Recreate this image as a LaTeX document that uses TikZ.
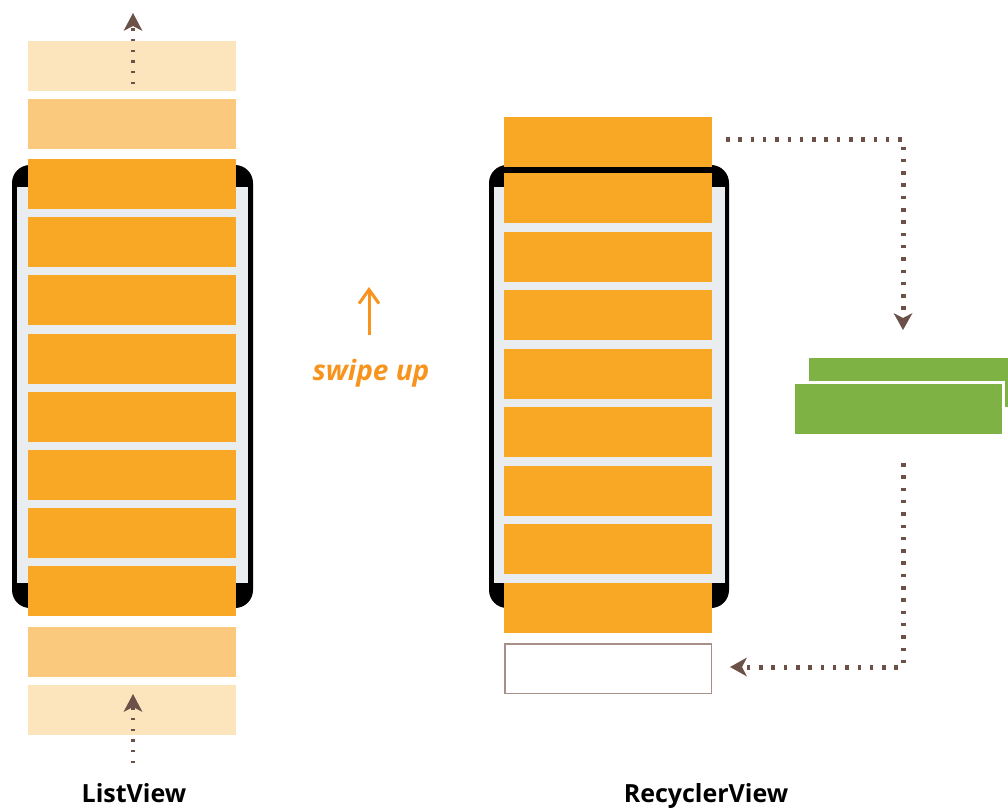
\documentclass[tikz,border=0pt]{standalone}
\usepackage{fontspec}
\setmainfont{Open Sans}
\usetikzlibrary{arrows.meta}
\definecolor{itemor}{HTML}{F8A825}
\definecolor{fadeA}{HTML}{FBC97D}
\definecolor{fadeB}{HTML}{FCE5BD}
\definecolor{phgray}{HTML}{E9EDF0}
\definecolor{arrbrown}{HTML}{6B5148}
\definecolor{boxbrown}{HTML}{A89088}
\definecolor{grn}{HTML}{7FB244}
\definecolor{swipeor}{HTML}{F7941D}
\tikzset{
  item/.style={rectangle, inner sep=0pt, minimum width=208pt, minimum height=50pt, fill=itemor},
  itemA/.style={item, fill=fadeA},
  itemB/.style={item, fill=fadeB},
  emptybox/.style={rectangle, inner sep=0pt, minimum width=206.5pt, minimum height=49.5pt, draw=boxbrown, line width=1.5pt, fill=white},
  phoneouter/.style={fill=black, rounded corners=18pt},
  phoneinner/.style={fill=phgray},
  dotl/.style={draw=arrbrown, line width=4.5pt, dash pattern=on 2.2pt off 8.5pt, -{Stealth[length=18pt,width=19pt,inset=5pt,line width=0pt]}},
  dotr/.style={draw=arrbrown, line width=5pt, dash pattern=on 3.5pt off 8.8pt, -{Stealth[length=17pt,width=19pt,inset=5pt,line width=0pt]}},
  swipe/.style={draw=swipeor, line width=3pt, -{Straight Barb[length=14pt,width=20pt]}},
  lbl/.style={inner sep=0pt, anchor=base, font=\fontsize{25}{30}\selectfont\bfseries},
}
\begin{document}
\begin{tikzpicture}[x=1pt,y=-1pt]
\useasboundingbox (0,0) rectangle (1008,809);
% ---------- ListView ----------
\fill[phoneouter] (12,165) rectangle (253,608);
\fill[phoneinner] (17,187) rectangle (248,583);
\node[itemB] (L0a) at (132,66) {};
\node[itemA] (L0b) at (132,124) {};
\node[item] (L1) at (132,184) {};
\node[item] (L2) at (132,242.2) {};
\node[item] (L3) at (132,300.4) {};
\node[item] (L4) at (132,358.6) {};
\node[item] (L5) at (132,416.8) {};
\node[item] (L6) at (132,475) {};
\node[item] (L7) at (132,533.2) {};
\node[item] (L8) at (132,591.4) {};
\node[itemA] (L9a) at (132,652) {};
\node[itemB] (L9b) at (132,710) {};
\coordinate (lt1) at (133,84);
\coordinate (lt2) at (133,13);
\draw[dotl] (lt1) -- (lt2);
\coordinate (lb1) at (133,763);
\coordinate (lb2) at (133,694);
\draw[dotl] (lb1) -- (lb2);
\node[lbl] (lvlabel) at (134,802) {ListView};
% ---------- swipe up ----------
\coordinate (s1) at (369,335);
\coordinate (s2) at (369,287);
\draw[swipe] (s1) -- (s2);
\node[inner sep=0pt, anchor=base, text=swipeor, font=\fontsize{28}{32}\selectfont\bfseries\itshape] (swtext) at (371,380) {swipe up};
% ---------- RecyclerView ----------
\fill[phoneouter] (489,165) rectangle (729,608);
\fill[phoneinner] (494,187) rectangle (725,583);
\node[item] (R0) at (608,142) {};
\node[item] (R1) at (608,198) {};
\node[item] (R2) at (608,256.6) {};
\node[item] (R3) at (608,315.1) {};
\node[item] (R4) at (608,373.7) {};
\node[item] (R5) at (608,432.3) {};
\node[item] (R6) at (608,490.9) {};
\node[item] (R7) at (608,549.4) {};
\node[item] (R8) at (608,608) {};
\draw[black, line width=6pt] (R0.south west) ++(0,2.7) -- ++(208,0);
\node[emptybox] (R9) at (608,668.5) {};
% green recycled views
\node[rectangle, inner sep=0pt, fill=grn, minimum width=199pt, minimum height=49pt, anchor=north west] (G1) at (809,358) {};
\node[rectangle, inner sep=0pt, fill=grn, draw=white, line width=3pt, minimum width=210pt, minimum height=53pt] (G2) at (898.5,409) {};
% dotted recycle arrows
\coordinate (r1) at (726,139);
\coordinate (r2) at (903,139);
\coordinate (r3) at (903,330);
\draw[dotr] (r1) -- (r2) -- (r3);
\coordinate (b1) at (903,463);
\coordinate (b2) at (903,667);
\coordinate (b3) at (730,667);
\draw[dotr] (b1) -- (b2) -- (b3);
\node[lbl] (rvlabel) at (706,802) {RecyclerView};
\end{tikzpicture}
\end{document}
